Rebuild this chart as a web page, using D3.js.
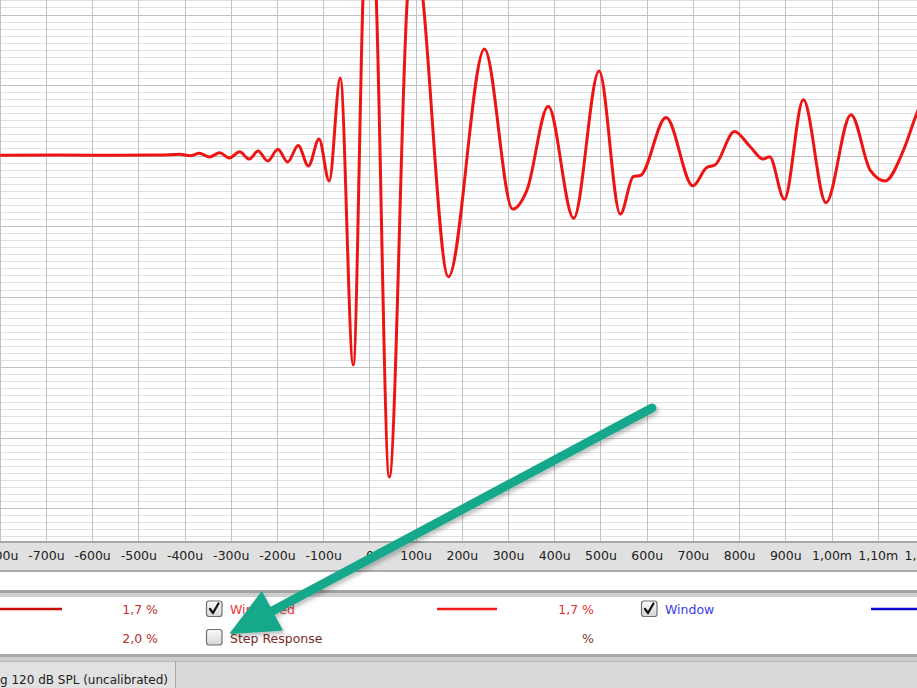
<!DOCTYPE html>
<html>
<head>
<meta charset="utf-8">
<script src="https://cdn.jsdelivr.net/npm/d3@7"></script>
<style>
  html, body { margin: 0; padding: 0; background: #fff; overflow: hidden; }
  svg { display: block; font-family: "DejaVu Sans", sans-serif; }
</style>
</head>
<body>
<div id="wrapper"></div>
<script>
// impulse response, time in microseconds, amplitude in %
const timeUs = [-799, -670, -540, -453, -410, -388, -368, -346, -324, -303, -281, -260, -241, -220,
  -198, -177, -154, -132, -109, -87, -63, -35, -14, 0, 15, 43, 82, 98, 116, 171, 249, 310, 341,
  387, 442, 497, 543, 571, 587, 642, 700, 730, 748, 790, 824, 852, 866, 898, 939, 988, 1042,
  1084, 1116, 1156, 1186, 1203];
const amplitude = [0.03, 0.07, 0.04, 0.07, 0.17, -0.04, 0.31, -0.21, 0.40, -0.35, 0.54, -0.50, 0.64, -0.78,
  0.88, -0.92, 1.42, -1.49, 2.34, -3.62, 11.0, -29.7, 22.1, 47.6, 22.1, -45.6, 22.1, 33.4, 22.1, -17.2, 15.1, -7.6, -4.9,
  7.0, -8.9, 12.0, -8.3, -3.0, -2.8, 5.4, -4.3, -1.7, -1.35, 3.4, 1.25, -0.5, -0.17, -6.2, 7.9, -6.7, 5.8,
  -2.1, -3.6, 0.8, 6.2, 8.6];

const xTicks = [-800, -700, -600, -500, -400, -300, -200, -100, 0, 100, 200, 300, 400, 500, 600, 700, 800, 900, 1000, 1100, 1200];
const xTickLabels = ["-800u", "-700u", "-600u", "-500u", "-400u", "-300u", "-200u", "-100u", "0", "100u", "200u", "300u",
  "400u", "500u", "600u", "700u", "800u", "900u", "1,00m", "1,10m", "1,20m"];
const yMajor = [-50, -40, -30, -20, -10, 0, 10, 20];
const yMinor = d3.range(-54, 23, 1);

const legendRows = [
  { left: "1,7 %", leftColor: "#c03030", checked: true, name: "Windowed", nameColor: "#e83a3a", right: "1,7 %", rightColor: "#e83030" },
  { left: "2,0 %", leftColor: "#b03030", checked: false, name: "Step Response", nameColor: "#7a2a2a", right: "%", rightColor: "#7a3a2a" }
];

const W = 917, H = 688;
const plot = { top: 0, bottom: 541 };
const fontSize = 12.5;

const svg = d3.select("#wrapper").append("svg")
  .attr("width", W).attr("height", H);

const defs = svg.append("defs");
defs.append("clipPath").attr("id", "plotClip")
  .append("rect").attr("x", 0).attr("y", plot.top).attr("width", W).attr("height", plot.bottom - plot.top);
const cbGrad = defs.append("linearGradient").attr("id", "cbGrad").attr("x1", 0).attr("y1", 0).attr("x2", 0).attr("y2", 1);
cbGrad.append("stop").attr("offset", "0%").attr("stop-color", "#fbfbfb");
cbGrad.append("stop").attr("offset", "100%").attr("stop-color", "#d6d6d6");
const shadow = defs.append("filter").attr("id", "shadow").attr("x", "-20%").attr("y", "-20%").attr("width", "140%").attr("height", "140%");
shadow.append("feDropShadow").attr("dx", 2).attr("dy", 3).attr("stdDeviation", 2).attr("flood-color", "#000").attr("flood-opacity", 0.25);

const xScale = d3.scaleLinear().domain([-800, 1185]).range([-0.3, 917]);
const yScale = d3.scaleLinear().domain([-54.67, 22.06]).range([plot.bottom, plot.top]);

// plot background + grid
svg.append("rect").attr("x", 0).attr("y", 0).attr("width", W).attr("height", plot.bottom).attr("fill", "#fff");
const plotArea = svg.append("g").attr("clip-path", "url(#plotClip)");

const gridMinor = plotArea.append("g")
  .call(d3.axisLeft(yScale).tickValues(yMinor).tickSize(-W).tickFormat(""));
gridMinor.select(".domain").remove();
gridMinor.selectAll("line").attr("stroke", "#e0e0e0").attr("shape-rendering", "crispEdges");

const gridMajor = plotArea.append("g")
  .call(d3.axisLeft(yScale).tickValues(yMajor).tickSize(-W).tickFormat(""));
gridMajor.select(".domain").remove();
gridMajor.selectAll("line").attr("stroke", "#c0c0c0").attr("shape-rendering", "crispEdges");

const gridX = plotArea.append("g").attr("transform", `translate(0,${plot.bottom})`)
  .call(d3.axisBottom(xScale).tickValues(xTicks).tickSize(-(plot.bottom - plot.top)).tickFormat(""));
gridX.select(".domain").remove();
gridX.selectAll("line").attr("stroke", "#c2c2c2").attr("shape-rendering", "crispEdges");

// impulse curve
const points = timeUs.map((t, i) => ({ t: t, v: amplitude[i] }));
const line = d3.line()
  .x(d => xScale(d.t))
  .y(d => yScale(d.v))
  .curve(d3.curveMonotoneX);
plotArea.append("path")
  .attr("d", line(points))
  .attr("fill", "none")
  .attr("stroke", "#ee1414")
  .attr("stroke-width", 3)
  .attr("stroke-linejoin", "round");

// axis band
svg.append("rect").attr("x", 0).attr("y", 541).attr("width", W).attr("height", 31).attr("fill", "#e0e0e0");
svg.append("rect").attr("x", 0).attr("y", 541).attr("width", W).attr("height", 2).attr("fill", "#a8a8a8");
svg.append("rect").attr("x", 0).attr("y", 570).attr("width", W).attr("height", 2).attr("fill", "#ababab");

const xAxis = svg.append("g").attr("transform", "translate(0,543)")
  .call(d3.axisBottom(xScale).tickValues(xTicks).tickSize(0).tickPadding(8)
    .tickFormat((d, i) => xTickLabels[i]));
xAxis.select(".domain").remove();
xAxis.selectAll("text").attr("font-family", "DejaVu Sans").attr("font-size", fontSize).attr("fill", "#222");

// white strip and legend panel
svg.append("rect").attr("x", 0).attr("y", 572).attr("width", W).attr("height", 18).attr("fill", "#fff");
svg.append("rect").attr("x", 0).attr("y", 590).attr("width", W).attr("height", 3).attr("fill", "#a2a2a2");
svg.append("rect").attr("x", 0).attr("y", 593).attr("width", W).attr("height", 4).attr("fill", "#cfcfcf");
svg.append("rect").attr("x", 0).attr("y", 597).attr("width", W).attr("height", 57).attr("fill", "#fff");
svg.append("rect").attr("x", 0).attr("y", 654).attr("width", W).attr("height", 3).attr("fill", "#a8a8a8");
svg.append("rect").attr("x", 0).attr("y", 657).attr("width", W).attr("height", 4).attr("fill", "#cdcdcd");

const legend = svg.append("g");
const rowY = [609.5, 638];

legend.append("line").attr("x1", 0).attr("x2", 62).attr("y1", 609).attr("y2", 609)
  .attr("stroke", "#c80c0c").attr("stroke-width", 2.4);
legend.append("line").attr("x1", 437).attr("x2", 497).attr("y1", 609).attr("y2", 609)
  .attr("stroke", "#f01818").attr("stroke-width", 2.4);
legend.append("line").attr("x1", 871).attr("x2", W).attr("y1", 609).attr("y2", 609)
  .attr("stroke", "#0a0ad0").attr("stroke-width", 2.6);

function checkbox(x, y, checked) {
  const g = legend.append("g").attr("transform", `translate(${x},${y})`);
  g.append("rect").attr("x", 0.5).attr("y", 0.5).attr("width", 15.5).attr("height", 15.5).attr("rx", 2.5)
    .attr("fill", "url(#cbGrad)").attr("stroke", "#6f6f6f").attr("stroke-width", 1.2);
  if (checked) {
    g.append("path").attr("d", "M4,8.5 L7,12.5 L12.5,3")
      .attr("fill", "none").attr("stroke", "#111").attr("stroke-width", 2.2)
      .attr("stroke-linecap", "round").attr("stroke-linejoin", "round");
  }
}

legendRows.forEach((r, i) => {
  const y = rowY[i];
  legend.append("text").attr("x", 158).attr("y", y).attr("dy", "0.36em").attr("text-anchor", "end")
    .attr("font-size", fontSize).attr("fill", r.leftColor).text(r.left);
  checkbox(206, y - 9, r.checked);
  legend.append("text").attr("x", 230).attr("y", y).attr("dy", "0.36em")
    .attr("font-size", fontSize).attr("fill", r.nameColor).text(r.name);
  legend.append("text").attr("x", 594).attr("y", y).attr("dy", "0.36em").attr("text-anchor", "end")
    .attr("font-size", fontSize).attr("fill", r.rightColor).text(r.right);
});
checkbox(641, 600.5, true);
legend.append("text").attr("x", 665).attr("y", 609.5).attr("dy", "0.36em")
  .attr("font-size", fontSize).attr("fill", "#3c3ce6").text("Window");

// status bar
svg.append("rect").attr("x", 0).attr("y", 661).attr("width", W).attr("height", 27).attr("fill", "#d9d9d9");
svg.append("rect").attr("x", 0).attr("y", 661).attr("width", 175).attr("height", 27).attr("fill", "#e1e1e1");
svg.append("line").attr("x1", 0).attr("x2", W).attr("y1", 661.5).attr("y2", 661.5).attr("stroke", "#b4b4b4");
svg.append("line").attr("x1", 175.5).attr("x2", 175.5).attr("y1", 661).attr("y2", H).attr("stroke", "#a9a9a9");
svg.append("text").attr("x", 168).attr("y", 680).attr("dy", "0.36em").attr("text-anchor", "end")
  .attr("font-size", 12).attr("fill", "#222").text("g 120 dB SPL (uncalibrated)");

// annotation arrow
const arrow = { x1: 652, y1: 408, x2: 231, y2: 633, head: 46, halfWidth: 21 };
const dx = arrow.x2 - arrow.x1, dy = arrow.y2 - arrow.y1;
const len = Math.hypot(dx, dy);
const ux = dx / len, uy = dy / len;
const bx = arrow.x2 - ux * arrow.head, by = arrow.y2 - uy * arrow.head;
const ag = svg.append("g").attr("filter", "url(#shadow)");
ag.append("line")
  .attr("x1", arrow.x1).attr("y1", arrow.y1)
  .attr("x2", bx + ux * 4).attr("y2", by + uy * 4)
  .attr("stroke", "#17a88a").attr("stroke-width", 9).attr("stroke-linecap", "round");
ag.append("polygon")
  .attr("points", [
    [arrow.x2, arrow.y2],
    [bx - uy * arrow.halfWidth, by + ux * arrow.halfWidth],
    [bx + uy * arrow.halfWidth, by - ux * arrow.halfWidth]
  ].map(p => p.join(",")).join(" "))
  .attr("fill", "#17a88a").attr("stroke", "#17a88a").attr("stroke-width", 2).attr("stroke-linejoin", "round");
</script>
</body>
</html>
